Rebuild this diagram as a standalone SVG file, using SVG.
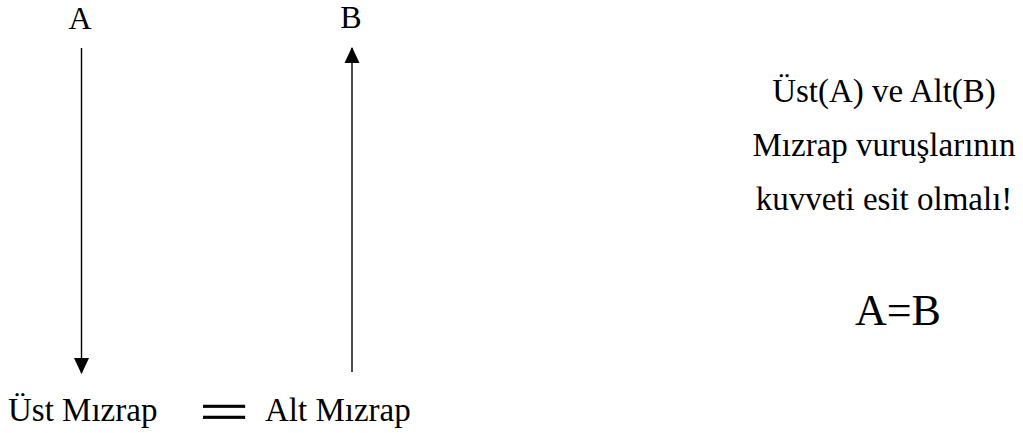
<svg xmlns="http://www.w3.org/2000/svg" width="1023" height="433" viewBox="0 0 1023 433">
<style>
.t{font-family:'Liberation Serif','DejaVu Serif',serif;fill:#000}
.lbl{font-size:32px;text-anchor:middle}
.big{font-size:33px}
.note{font-size:33px;text-anchor:middle}
.eq{font-size:44px;text-anchor:middle}
.conn{stroke:#000;stroke-width:1.4;fill:none}
</style>
<defs>
<marker id="ah" markerUnits="userSpaceOnUse" markerWidth="16" markerHeight="18" refX="16" refY="8" orient="auto" viewBox="0 0 17 16">
<path d="M0,0 L17,8 L0,16 Z" fill="#000"/>
</marker>
</defs>
<rect width="1023" height="433" fill="#fff"/>
<g id="connectors">
<line class="conn" x1="81.5" y1="48" x2="81.5" y2="373" marker-end="url(#ah)"/>
<line class="conn" x1="352" y1="372" x2="352" y2="48" marker-end="url(#ah)"/>
</g>
<g id="nodeA"><text class="t lbl" font-family="Liberation Serif" x="80" y="29">A</text></g>
<g id="nodeB"><text class="t lbl" font-family="Liberation Serif" x="351" y="28">B</text></g>
<g id="ust"><text class="t big" font-family="Liberation Serif" x="8" y="421">Üst Mızrap</text></g>
<g id="equals"><text class="t" font-family="Liberation Serif" transform="translate(224,429.5) scale(1.6,1)" x="0" y="0" stroke="#000" stroke-width="0.7" style="font-size:55px;text-anchor:middle">=</text></g>
<g id="alt"><text class="t big" font-family="Liberation Serif" x="265" y="421">Alt Mızrap</text></g>
<g id="note">
<text class="t note" font-family="Liberation Serif" x="884" y="102">Üst(A) ve Alt(B)</text>
<text class="t note" font-family="Liberation Serif" x="884" y="156">Mızrap vuruşlarının</text>
<text class="t note" font-family="Liberation Serif" x="884" y="210">kuvveti esit olmalı!</text>
</g>
<g id="aeqb"><text class="t eq" font-family="Liberation Serif" x="898" y="325">A=B</text></g>
</svg>
